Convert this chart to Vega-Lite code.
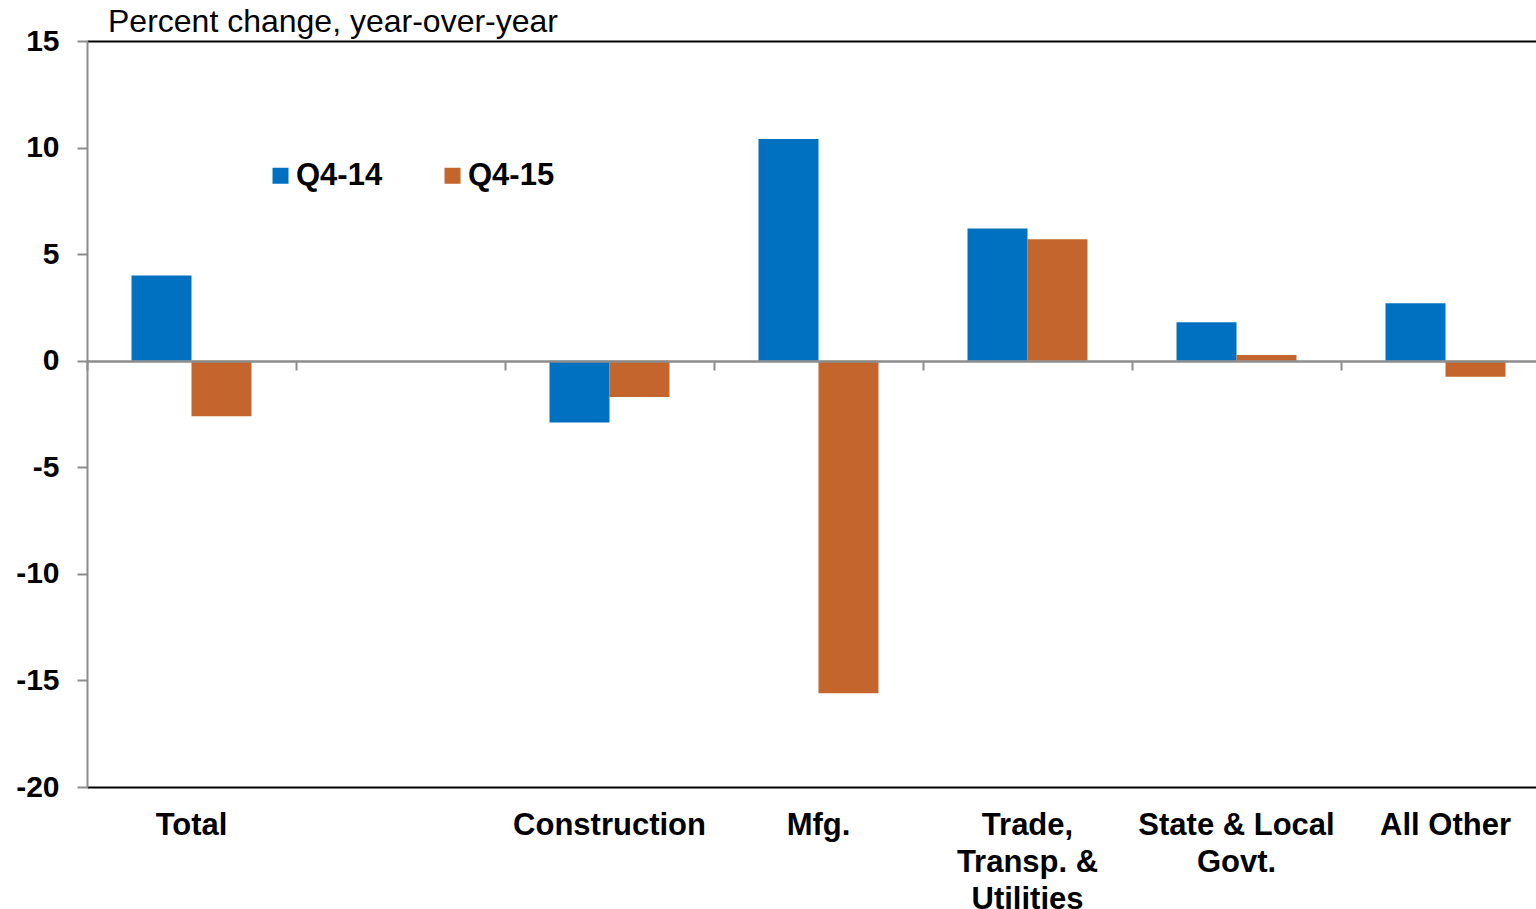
{
  "$schema": "https://vega.github.io/schema/vega-lite/v6.json",
  "width": 1449,
  "height": 746,
  "autosize": {"type": "none"},
  "padding": {"left": 87, "top": 41, "right": 0, "bottom": 122},
  "config": {"view": {"stroke": null}, "font": "Liberation Sans"},
  "title": {"text": "Percent change, year-over-year", "anchor": "start", "frame": "group", "dx": 21, "fontSize": 32, "fontWeight": "normal", "color": "black", "baseline": "alphabetic", "offset": -38, "font": "Liberation Sans"},
  "data": {"values": [
    {"sector": "Total", "series": "Q4-14", "value": 4.0},
    {"sector": "Total", "series": "Q4-15", "value": -2.6},
    {"sector": "Construction", "series": "Q4-14", "value": -2.9},
    {"sector": "Construction", "series": "Q4-15", "value": -1.7},
    {"sector": "Mfg.", "series": "Q4-14", "value": 10.4},
    {"sector": "Mfg.", "series": "Q4-15", "value": -15.6},
    {"sector": "Trade,|Transp. &|Utilities", "series": "Q4-14", "value": 6.2},
    {"sector": "Trade,|Transp. &|Utilities", "series": "Q4-15", "value": 5.7},
    {"sector": "State & Local|Govt.", "series": "Q4-14", "value": 1.8},
    {"sector": "State & Local|Govt.", "series": "Q4-15", "value": 0.27},
    {"sector": "All Other", "series": "Q4-14", "value": 2.7},
    {"sector": "All Other", "series": "Q4-15", "value": -0.75}
  ]},
  "layer": [
    {
      "mark": {"type": "bar"},
      "encoding": {
        "x": {"field": "sector", "type": "nominal",
          "scale": {"domain": ["Total", "_blank", "Construction", "Mfg.", "Trade,|Transp. &|Utilities", "State & Local|Govt.", "All Other"], "range": [0, 1463], "paddingInner": 0, "paddingOuter": 0},
          "axis": {"orient": "bottom", "title": null, "labelAngle": 0, "ticks": false, "domainColor": "black", "domainWidth": 2, "labelFontSize": 31, "labelFontWeight": "bold", "labelColor": "black", "labelPadding": 23, "labelBaseline": "top", "labelLineHeight": 37, "labelLimit": 0, "labelOverlap": false, "labelExpr": "datum.value == '_blank' ? '' : split(datum.value, '|')", "zindex": 1}},
        "xOffset": {"field": "series", "type": "nominal", "scale": {"domain": ["Q4-14", "Q4-15"], "paddingInner": 0, "paddingOuter": 0.742}},
        "y": {"field": "value", "type": "quantitative",
          "scale": {"domain": [-20, 15], "nice": false, "zero": false},
          "axis": {"values": [-20, -15, -10, -5, 0, 5, 10, 15], "labelExpr": "datum.value < 0 ? '-' + abs(datum.value) : '' + datum.value", "title": null, "grid": false, "domainColor": "#8c8c8c", "domainWidth": 2, "tickColor": "#8c8c8c", "tickWidth": 2, "tickSize": 10, "labelFontSize": 30, "labelFontWeight": "bold", "labelColor": "black", "labelPadding": 18, "zindex": 1}},
        "color": {"field": "series", "type": "nominal",
          "scale": {"domain": ["Q4-14", "Q4-15"], "range": ["#0070C0", "#C4652E"]},
          "legend": {"orient": "none", "legendX": 178, "legendY": 119, "direction": "horizontal", "title": null, "symbolType": "square", "symbolSize": 256, "symbolStrokeWidth": 0, "symbolOpacity": 1, "labelFontSize": 31, "labelFontWeight": "bold", "labelColor": "black", "columnPadding": 54, "labelOffset": 0}}
      }
    },
    {
      "mark": {"type": "point", "opacity": 0},
      "encoding": {
        "x": {"field": "sector", "type": "nominal",
          "scale": {"domain": ["Total", "_blank", "Construction", "Mfg.", "Trade,|Transp. &|Utilities", "State & Local|Govt.", "All Other"], "range": [0, 1463], "paddingInner": 0, "paddingOuter": 0},
          "axis": {"orient": "bottom", "offset": -426, "title": null, "labels": false, "domainColor": "#8c8c8c", "domainWidth": 2.5, "tickColor": "#8c8c8c", "tickWidth": 2, "tickSize": 9, "tickBand": "extent", "zindex": 2}}
      }
    },
    {
      "mark": {"type": "point", "opacity": 0},
      "encoding": {
        "x": {"field": "sector", "type": "nominal",
          "scale": {"domain": ["Total", "_blank", "Construction", "Mfg.", "Trade,|Transp. &|Utilities", "State & Local|Govt.", "All Other"], "range": [0, 1463], "paddingInner": 0, "paddingOuter": 0},
          "axis": {"orient": "top", "title": null, "labels": false, "ticks": false, "domainColor": "black", "domainWidth": 2, "zindex": 1}}
      }
    }
  ],
  "resolve": {"axis": {"x": "independent"}}
}
